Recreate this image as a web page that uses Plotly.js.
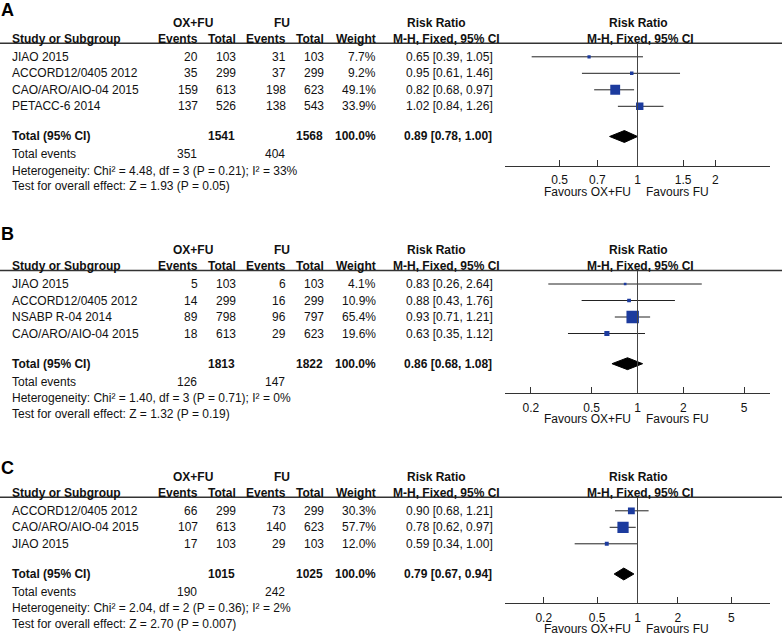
<!DOCTYPE html>
<html lang="en">
<head>
    <meta charset="UTF-8">
    <title>Forest plots OX+FU vs FU</title>
    <script src="https://cdn.plot.ly/plotly-3.0.1.min.js"></script>
    <style>
        body { margin: 0; padding: 0; background: white; }
        #plot { width: 782px; height: 635px; }
    </style>
</head>
<body>
    <div id="plot"></div>
    <script>
        // ---- panel A ----
        const studiesA = ['JIAO 2015', 'ACCORD12/0405 2012', 'CAO/ARO/AIO-04 2015', 'PETACC-6 2014'];
        const oxEventsA = [20, 35, 159, 137];
        const oxTotalA = [103, 299, 613, 526];
        const fuEventsA = [31, 37, 198, 138];
        const fuTotalA = [103, 299, 623, 543];
        const weightA = [7.7, 9.2, 49.1, 33.9];
        const rrA = [0.65, 0.95, 0.82, 1.02];
        const loA = [0.39, 0.61, 0.68, 0.84];
        const hiA = [1.05, 1.46, 0.97, 1.26];
        const pooledA = [0.89, 0.78, 1.00];
        const sumsA = [1541, 1568, 351, 404];
        const hetA = 'Heterogeneity: Chi² = 4.48, df = 3 (P = 0.21); I² = 33%';
        const testA = 'Test for overall effect: Z = 1.93 (P = 0.05)';
        const ticksA = [0.5, 0.7, 1, 1.5, 2];

        // ---- panel B ----
        const studiesB = ['JIAO 2015', 'ACCORD12/0405 2012', 'NSABP R-04 2014', 'CAO/ARO/AIO-04 2015'];
        const oxEventsB = [5, 14, 89, 18];
        const oxTotalB = [103, 299, 798, 613];
        const fuEventsB = [6, 16, 96, 29];
        const fuTotalB = [103, 299, 797, 623];
        const weightB = [4.1, 10.9, 65.4, 19.6];
        const rrB = [0.83, 0.88, 0.93, 0.63];
        const loB = [0.26, 0.43, 0.71, 0.35];
        const hiB = [2.64, 1.76, 1.21, 1.12];
        const pooledB = [0.86, 0.68, 1.08];
        const sumsB = [1813, 1822, 126, 147];
        const hetB = 'Heterogeneity: Chi² = 1.40, df = 3 (P = 0.71); I² = 0%';
        const testB = 'Test for overall effect: Z = 1.32 (P = 0.19)';
        const ticksB = [0.2, 0.5, 1, 2, 5];

        // ---- panel C ----
        const studiesC = ['ACCORD12/0405 2012', 'CAO/ARO/AIO-04 2015', 'JIAO 2015'];
        const oxEventsC = [66, 107, 17];
        const oxTotalC = [299, 613, 103];
        const fuEventsC = [73, 140, 29];
        const fuTotalC = [299, 623, 103];
        const weightC = [30.3, 57.7, 12.0];
        const rrC = [0.90, 0.78, 0.59];
        const loC = [0.68, 0.62, 0.34];
        const hiC = [1.21, 0.97, 1.00];
        const pooledC = [0.79, 0.67, 0.94];
        const sumsC = [1015, 1025, 190, 242];
        const hetC = 'Heterogeneity: Chi² = 2.04, df = 2 (P = 0.36); I² = 2%';
        const testC = 'Test for overall effect: Z = 2.70 (P = 0.007)';
        const ticksC = [0.2, 0.5, 1, 2, 5];

        const W = 782, H = 635;
        const STEP = 16.5;
        const FONT = '"Liberation Sans", Arial, sans-serif';
        const TXT = '#111';
        const BLUE = '#1c3b9e';

        const panels = [
            {label: 'A', top: 43.3, letterY: 10, span: 0.512, ticks: ticksA,
             studies: studiesA, oxE: oxEventsA, oxT: oxTotalA, fuE: fuEventsA, fuT: fuTotalA,
             w: weightA, rr: rrA, lo: loA, hi: hiA, pooled: pooledA, sums: sumsA, het: hetA, test: testA},
            {label: 'B', top: 270.5, letterY: 234, span: 0.869, ticks: ticksB,
             studies: studiesB, oxE: oxEventsB, oxT: oxTotalB, fuE: fuEventsB, fuT: fuTotalB,
             w: weightB, rr: rrB, lo: loB, hi: hiB, pooled: pooledB, sums: sumsB, het: hetB, test: testB},
            {label: 'C', top: 497.3, letterY: 468, span: 0.988, ticks: ticksC,
             studies: studiesC, oxE: oxEventsC, oxT: oxTotalC, fuE: fuEventsC, fuT: fuTotalC,
             w: weightC, rr: rrC, lo: loC, hi: hiC, pooled: pooledC, sums: sumsC, het: hetC, test: testC}
        ];

        const px = x => x / W;
        const py = y => 1 - y / H;
        const ci = (r, l, h) => r.toFixed(2) + ' [' + l.toFixed(2) + ', ' + h.toFixed(2) + ']';

        const traces = [];
        const annotations = [];
        const shapes = [];
        const layout = {
            width: W, height: H,
            margin: {t: 0, r: 0, b: 0, l: 0},
            paper_bgcolor: 'white',
            plot_bgcolor: 'rgba(0,0,0,0)',
            showlegend: false,
            font: {family: FONT, size: 12, color: TXT}
        };

        function text(x, y, s, anchor, opts) {
            annotations.push(Object.assign({
                x: px(x), y: py(y), xref: 'paper', yref: 'paper',
                text: s, showarrow: false, xanchor: anchor, yanchor: 'middle',
                borderpad: 0,
                font: {family: FONT, size: 12, color: TXT}
            }, opts || {}));
        }

        panels.forEach((p, i) => {
            const k = i + 1;
            const xs = k === 1 ? 'x' : 'x' + k;
            const ys = k === 1 ? 'y' : 'y' + k;
            const n = p.studies.length;
            const row0 = p.top + 13.5;
            const rowPx = r => row0 + r * STEP;
            const totalRow = n + 0.83;
            const totalPx = rowPx(totalRow);
            const axisPx = totalPx + 29.5;

            // axes
            layout['xaxis' + (k === 1 ? '' : k)] = {
                type: 'log', range: [-p.span, p.span],
                domain: [px(505), px(770)], anchor: ys,
                showline: true, linecolor: '#333', linewidth: 1,
                ticks: 'inside', ticklen: 6, tickwidth: 1, tickcolor: '#333',
                tickvals: p.ticks, ticktext: p.ticks.map(String),
                tickfont: {family: FONT, size: 12, color: TXT},
                ticklabelstandoff: 3,
                showgrid: false, zeroline: false, fixedrange: true
            };
            layout['yaxis' + (k === 1 ? '' : k)] = {
                domain: [py(axisPx), py(p.top)], anchor: xs,
                range: [(axisPx - row0) / STEP, (p.top - row0) / STEP],
                visible: false, fixedrange: true
            };

            // confidence intervals
            const cx = [], cy = [];
            p.studies.forEach((s, j) => {
                cx.push(p.lo[j], p.hi[j], null);
                cy.push(j, j, null);
            });
            traces.push({
                x: cx, y: cy, xaxis: xs, yaxis: ys, type: 'scatter', mode: 'lines',
                line: {color: '#222', width: 1}, hoverinfo: 'skip'
            });
            // study squares, size from weight
            traces.push({
                x: p.rr, y: p.studies.map((s, j) => j), xaxis: xs, yaxis: ys,
                type: 'scatter', mode: 'markers', opacity: 1,
                marker: {symbol: 'square', color: BLUE, opacity: 1,
                         size: p.w.map(v => 2 + 0.16 * v), line: {width: 0}}
            });
            // pooled diamond
            const h = 0.36;
            traces.push({
                x: [p.pooled[1], p.pooled[0], p.pooled[2], p.pooled[0], p.pooled[1]],
                y: [totalRow, totalRow - h, totalRow, totalRow + h, totalRow],
                xaxis: xs, yaxis: ys, type: 'scatter', mode: 'lines',
                fill: 'toself', fillcolor: '#000', line: {color: '#000', width: 1}
            });

            // line of no effect
            shapes.push({
                type: 'line', xref: xs, yref: ys + ' domain', x0: 1, x1: 1, y0: 0, y1: 1,
                line: {color: '#444', width: 1}
            });
            // header rule
            shapes.push({
                type: 'line', xref: 'paper', yref: 'paper', x0: 0, x1: 1,
                y0: py(p.top), y1: py(p.top), line: {color: '#333', width: 1.5}
            });

            // panel letter
            text(0, p.letterY, '<b>' + p.label + '</b>', 'left', {font: {family: FONT, size: 18, color: '#000'}});

            // headers
            const h1 = p.top - 20.5, h2 = p.top - 4.5;
            text(193, h1, '<b>OX+FU</b>', 'center');
            text(282, h1, '<b>FU</b>', 'center');
            text(436.5, h1, '<b>Risk Ratio</b>', 'center');
            text(638, h1, '<b>Risk Ratio</b>', 'center');
            text(11, h2, '<b>Study or Subgroup</b>', 'left');
            text(199, h2, '<b>Events</b>', 'right');
            text(237, h2, '<b>Total</b>', 'right');
            text(287, h2, '<b>Events</b>', 'right');
            text(325, h2, '<b>Total</b>', 'right');
            text(377, h2, '<b>Weight</b>', 'right');
            text(446, h2, '<b>M-H, Fixed, 95% CI</b>', 'center');
            text(640, h2, '<b>M-H, Fixed, 95% CI</b>', 'center');

            // study rows
            p.studies.forEach((s, j) => {
                const y = rowPx(j);
                text(11, y, s, 'left');
                text(199, y, String(p.oxE[j]), 'right');
                text(237, y, String(p.oxT[j]), 'right');
                text(287, y, String(p.fuE[j]), 'right');
                text(325, y, String(p.fuT[j]), 'right');
                text(377, y, p.w[j].toFixed(1) + '%', 'right');
                text(494, y, ci(p.rr[j], p.lo[j], p.hi[j]), 'right');
            });

            // totals
            text(11, totalPx, '<b>Total (95% CI)</b>', 'left');
            text(236, totalPx, '<b>' + p.sums[0] + '</b>', 'right');
            text(324, totalPx, '<b>' + p.sums[1] + '</b>', 'right');
            text(377, totalPx, '<b>100.0%</b>', 'right');
            text(493, totalPx, '<b>' + ci(p.pooled[0], p.pooled[1], p.pooled[2]) + '</b>', 'right');
            text(11, totalPx + 18, 'Total events', 'left');
            text(198, totalPx + 18, String(p.sums[2]), 'right');
            text(286, totalPx + 18, String(p.sums[3]), 'right');
            text(11, totalPx + 34.5, p.het, 'left');
            text(11, totalPx + 50, p.test, 'left');

            // favours labels
            text(632, axisPx + 26, 'Favours OX+FU', 'right');
            text(645, axisPx + 26, 'Favours FU', 'left');
        });

        layout.annotations = annotations;
        layout.shapes = shapes;

        Plotly.newPlot('plot', traces, layout, {displayModeBar: false, staticPlot: true});
    </script>
</body>
</html>
